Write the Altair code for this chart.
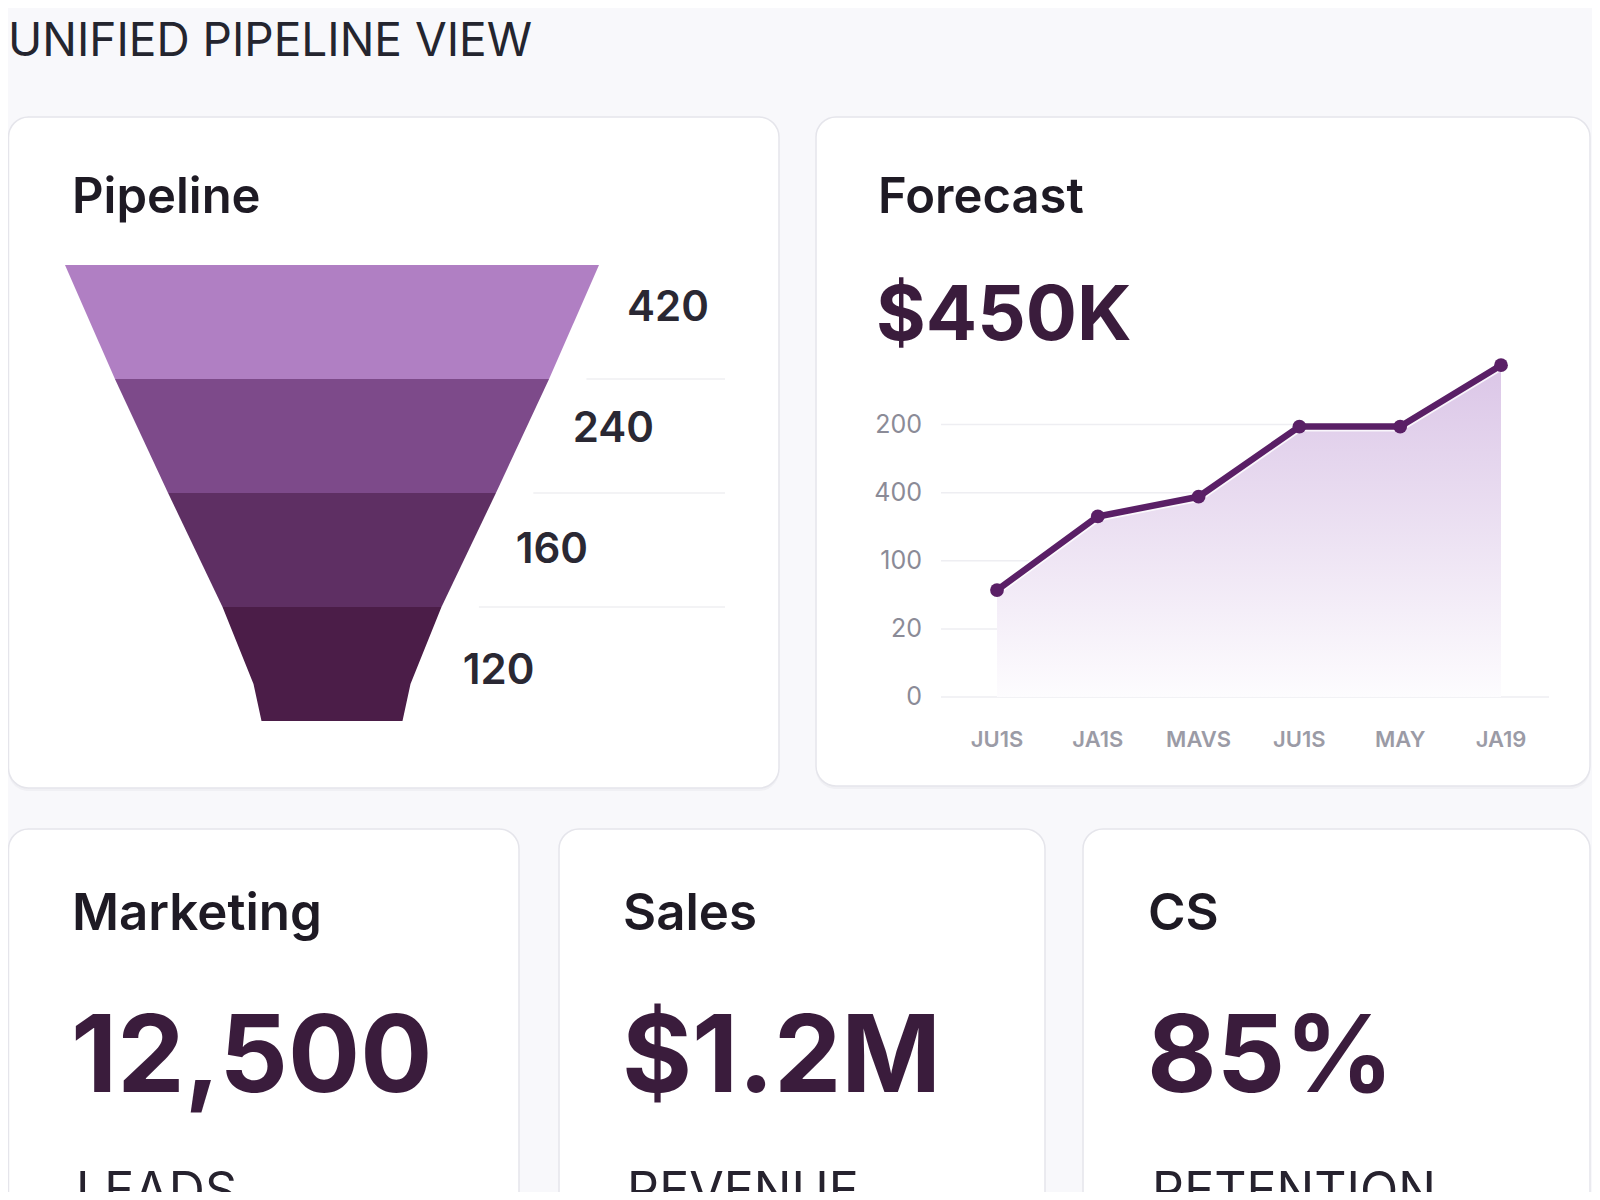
import altair as alt
import numpy as np
import pandas as pd

# ---------------- data ----------------
stage_names = ["Stage 1", "Stage 2", "Stage 3", "Stage 4"]
stage_values = [420, 240, 160, 120]
# funnel outline: position down the funnel (stage units) and width (top = 100)
funnel_profile_pos = [0, 1, 2, 3, 3.675, 4]
funnel_profile_width = [100, 81.3, 61.4, 41.0, 29.4, 26.4]

forecast_months = ["JU1S", "JA1S", "MAVS", "JU1S", "MAY", "JA19"]
forecast_index = [0, 1, 2, 3, 4, 5]
forecast_values = [1.57, 2.65, 2.94, 3.97, 3.97, 4.87]   # in gridline steps
y_tick_pos = [0, 1, 2, 3, 4]
y_tick_labels = ["0", "20", "100", "400", "200"]

kpi_titles = ["Marketing", "Sales", "CS"]
kpi_values = ["12,500", "$1.2M", "85%"]
kpi_units = ["LEADS", "REVENUE", "RETENTION"]

FONT = "Inter"
W, H = 1584, 1184
one = pd.DataFrame({"a": [0]})

# ---------------- helpers ----------------
def card(x, y, x2, y2):
    shadow = alt.Chart(one).mark_rect(cornerRadius=20, fill="#ececf1", opacity=0.7).encode(
        x=alt.value(x), x2=alt.value(x2), y=alt.value(y + 3), y2=alt.value(y2 + 3))
    body = alt.Chart(one).mark_rect(cornerRadius=20, fill="white", stroke="#e5e5eb", strokeWidth=1.5).encode(
        x=alt.value(x), x2=alt.value(x2), y=alt.value(y), y2=alt.value(y2))
    return [shadow, body]

def label(txt, x, y, size, weight=400, color="#24232d", align="left", baseline="alphabetic"):
    return alt.Chart(one).mark_text(text=txt, font=FONT, fontSize=size, fontWeight=weight, color=color,
                                    align=align, baseline=baseline).encode(x=alt.value(x), y=alt.value(y))

layers = []

# cards
layers += card(0.5, 109, 771, 780)
layers += card(808, 109, 1582, 778)
layers += card(0.5, 821, 511, 1300)
layers += card(551, 821, 1037, 1300)
layers += card(1075, 821, 1582, 1300)

# page title
layers.append(label("UNIFIED PIPELINE VIEW", 0, 48, 46, 400, "#24252f"))

# ---------------- funnel ----------------
rows = []
for i, name in enumerate(stage_names):
    for p, w in zip(funnel_profile_pos, funnel_profile_width):
        if i <= p <= i + 1:
            rows.append({"stage": name, "pos": p, "xl": -w / 2, "xr": w / 2})
funnel_df = pd.DataFrame(rows)

fx = alt.Scale(domain=[-50, 50], range=[57, 591])
fy = alt.Scale(domain=[0, 4], range=[257, 713])
stage_colors = ["#b07fc3", "#7d4a8a", "#5e2f63", "#4b1d48"]

funnel = alt.Chart(funnel_df).mark_area(orient="horizontal", opacity=1).encode(
    y=alt.Y("pos:Q", scale=fy, axis=None),
    x=alt.X("xl:Q", scale=fx, axis=None, stack=None),
    x2="xr:Q",
    color=alt.Color("stage:N", scale=alt.Scale(domain=stage_names, range=stage_colors), legend=None),
)

# faint separator rules to the right of the stage boundaries
sep_rows = []
for p, w in zip(funnel_profile_pos, funnel_profile_width):
    if p in (1, 2, 3):
        sep_rows.append({"pos": p, "x": w / 2 + 7})
sep = alt.Chart(pd.DataFrame(sep_rows)).mark_rule(color="#efeff2", strokeWidth=1.5).encode(
    y=alt.Y("pos:Q", scale=fy, axis=None),
    x=alt.X("x:Q", scale=fx, axis=None),
    x2=alt.value(717),
)

# stage value labels, set beside the funnel's right edge
lab_rows = []
for i, v in enumerate(stage_values):
    p = 0.38 + i * 1.06
    half = float(np.interp(p, funnel_profile_pos, funnel_profile_width)) / 2
    lab_rows.append({"pos": p, "x": half, "txt": str(v)})
funnel_labels = alt.Chart(pd.DataFrame(lab_rows)).mark_text(
    font=FONT, fontSize=42, fontWeight=600, color="#2a2833", align="left", baseline="middle", dx=47
).encode(
    y=alt.Y("pos:Q", scale=fy, axis=None),
    x=alt.X("x:Q", scale=fx, axis=None),
    text="txt:N",
)

layers += [sep, funnel, funnel_labels]
layers.append(label("Pipeline", 64, 205, 49, 600, "#1e1a24"))

# ---------------- forecast ----------------
layers.append(label("Forecast", 870, 205, 49, 600, "#1e1a24"))
layers.append(label("$450K", 868, 332, 76, 700, "#3a1c3c"))

lx = alt.Scale(domain=[0, 5], range=[989, 1493])
ly = alt.Scale(domain=[0, 4], range=[689, 416.5])

fc_df = pd.DataFrame({"i": forecast_index, "v": forecast_values, "m": forecast_months})
grid_df = pd.DataFrame({"p": y_tick_pos, "t": y_tick_labels})

grid = alt.Chart(grid_df[grid_df.p > 0]).mark_rule(color="#eeeef2", strokeWidth=1.5).encode(
    y=alt.Y("p:Q", scale=ly, axis=None), x=alt.value(933), x2=alt.value(1480))
base = alt.Chart(grid_df[grid_df.p == 0]).mark_rule(color="#eeeef2", strokeWidth=1.5).encode(
    y=alt.Y("p:Q", scale=ly, axis=None), x=alt.value(933), x2=alt.value(1541))

area = alt.Chart(fc_df).mark_area(
    color=alt.Gradient(gradient="linear",
                       stops=[alt.GradientStop(color="#dbc6e7", offset=0),
                              alt.GradientStop(color="#fdfcfe", offset=1)],
                       x1=1, x2=1, y1=0, y2=1),
    opacity=1,
).encode(x=alt.X("i:Q", scale=lx, axis=None), y=alt.Y("v:Q", scale=ly, axis=None))

halo = alt.Chart(fc_df).mark_line(color="white", strokeWidth=10, opacity=0.8).encode(
    x=alt.X("i:Q", scale=lx, axis=None), y=alt.Y("v:Q", scale=ly, axis=None))

line = alt.Chart(fc_df).mark_line(color="#5a1f66", strokeWidth=6.5, strokeJoin="round").encode(
    x=alt.X("i:Q", scale=lx, axis=None), y=alt.Y("v:Q", scale=ly, axis=None))

pts = alt.Chart(fc_df).mark_point(filled=True, size=190, color="#5a1f66", opacity=1).encode(
    x=alt.X("i:Q", scale=lx, axis=None), y=alt.Y("v:Q", scale=ly, axis=None))

ytext = alt.Chart(grid_df).mark_text(font=FONT, fontSize=25, color="#8b8b97", align="right", baseline="middle").encode(
    y=alt.Y("p:Q", scale=ly, axis=None), x=alt.value(914), text="t:N")

xtext = alt.Chart(fc_df).mark_text(font=FONT, fontSize=22, fontWeight=600, color="#9b9ba6",
                                   align="center", baseline="middle").encode(
    x=alt.X("i:Q", scale=lx, axis=None), y=alt.value(732), text="m:N")

layers += [grid, base, area, halo, line, pts, ytext, xtext]

# ---------------- KPI cards ----------------
kpi_x = [64, 615, 1140]
for t, v, u, x in zip(kpi_titles, kpi_values, kpi_units, kpi_x):
    layers.append(label(t, x, 922, 51, 600, "#1e1a24"))
    layers.append(label(v, x - 1, 1084, 107, 700, "#3a1c3c"))
    layers.append(label(u, x + 4, 1200, 50, 400, "#26222e"))

chart = alt.layer(*layers).resolve_scale(
    x="independent", y="independent", color="independent"
).properties(
    width=W, height=H, background="#f8f8fb", padding=0,
    autosize=alt.AutoSizeParams(type="none"),
).configure_view(stroke=None)

chart.save("out.html", embed_options={"renderer": "svg", "actions": False})
